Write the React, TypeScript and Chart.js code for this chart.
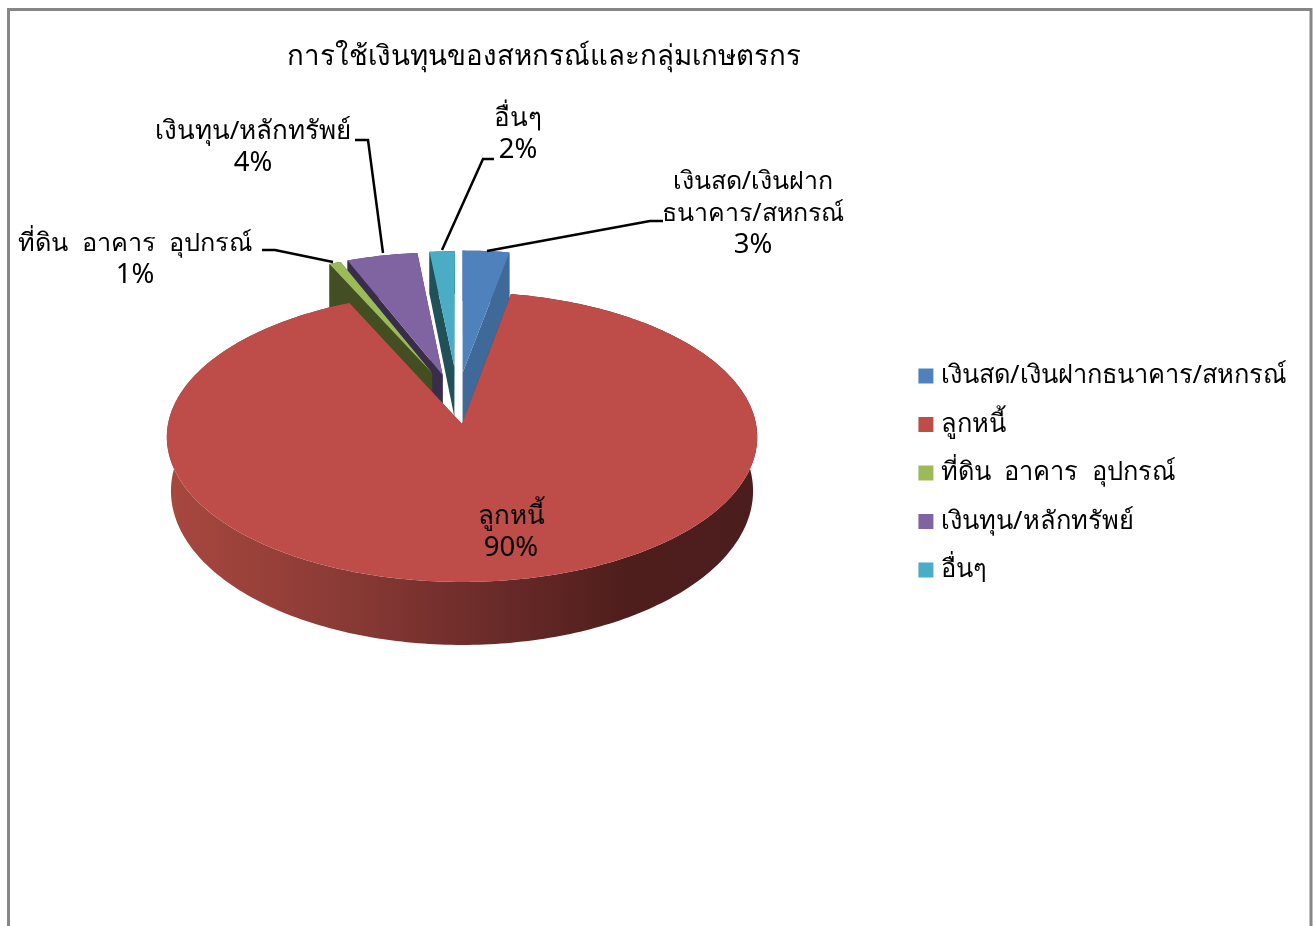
import React, { useEffect, useRef } from "react";
import { Chart, registerables } from "chart.js";

Chart.register(...registerables);

const titleText = "การใช้เงินทุนของสหกรณ์และกลุ่มเกษตรกร";
const categories = ["เงินสด/เงินฝากธนาคาร/สหกรณ์", "ลูกหนี้", "ที่ดิน  อาคาร  อุปกรณ์", "เงินทุน/หลักทรัพย์", "อื่นๆ"];
const shareValues = [2.9, 90.3, 0.75, 4.4, 1.65];
const topColors = ["#4F81BD", "#BE4C49", "#9BBB59", "#8064A2", "#4BACC6"];
const wallColors = ["#3E6998", "#7A302D", "#434F22", "#392D4C", "#205058"];
const FONT = '"Noto Sans", "DejaVu Sans", sans-serif';

// style: how far each slice is pulled out of the pie, on the unit disc
const explodeU = [0.002, 0, -0.105, -0.068, -0.027];
const explodeV = [-0.367, 0, -0.367, -0.352, -0.411];
const radiusScale = [0.985, 1, 0.955, 0.985, 0.935];
const wallExtra = [8, 0, 0, 0, 0];
const paintOrder = [4, 3, 2, 0, 1];

// style: label placement
const labelLines = [["เงินสด/เงินฝาก", "ธนาคาร/สหกรณ์"], ["ลูกหนี้"], ["ที่ดิน  อาคาร  อุปกรณ์"], ["เงินทุน/หลักทรัพย์"], ["อื่นๆ"]];
const labelX = [753, 511, 135, 253, 518];
const labelY = [182, 517, 244, 132, 119];
const labelSize = [25, 26, 25.3, 26, 26];
const leaderPaths: number[][][] = [
  [[487, 251], [650, 221], [663, 221]],
  [],
  [[333, 262], [275, 250], [262, 250]],
  [[383, 253], [368, 140], [355, 140]],
  [[442, 250], [483, 159], [494, 159]],
];

const CX = 462, CY = 424, A = 294, B = 143.8, K = 0.0897;
const project = (u: number, v: number) => {
  const w = 1 - K * v;
  return [CX + (A * u) / w, CY + (B * v) / w];
};
const lower = (p: number[], shrink: number, extra: number) => [
  CX + shrink * (p[0] - CX),
  423 + 1.062 * (p[1] - 373) + extra,
];

const fillPoly = (ctx: CanvasRenderingContext2D, pts: number[][], fill: any) => {
  ctx.beginPath();
  pts.forEach((p, i) => (i ? ctx.lineTo(p[0], p[1]) : ctx.moveTo(p[0], p[1])));
  ctx.closePath();
  ctx.fillStyle = fill;
  ctx.fill();
};

const piePlugin = {
  id: "pie3d",
  afterLayout(chart: any) {
    chart.titleBlock.left = 0;
    chart.titleBlock.right = 1087;
  },
  beforeDraw(chart: any) {
    const ctx = chart.ctx;
    ctx.save();
    ctx.fillStyle = "#fff";
    ctx.fillRect(0, 0, chart.width, chart.height);
    ctx.strokeStyle = "#868686";
    ctx.lineWidth = 3;
    ctx.beginPath();
    ctx.moveTo(8.5, 940);
    ctx.lineTo(8.5, 9.5);
    ctx.lineTo(1311, 9.5);
    ctx.lineTo(1311, 940);
    ctx.stroke();
    ctx.restore();
  },
  beforeDatasetsDraw(chart: any) {
    const ctx = chart.ctx;
    const arcs = chart.getDatasetMeta(0).data;
    ctx.save();
    paintOrder.forEach((i) => {
      const arc = arcs[i];
      const r = radiusScale[i];
      const start = arc.startAngle, end = arc.endAngle;
      const steps = Math.max(2, Math.ceil(((end - start) * 180) / Math.PI));
      const rim: number[][] = [];
      for (let s = 0; s <= steps; s++) {
        const a = start + ((end - start) * s) / steps;
        rim.push(project(explodeU[i] + r * Math.cos(a), explodeV[i] + r * Math.sin(a)));
      }
      const apex = project(explodeU[i], explodeV[i]);
      const shrink = i === 1 ? 0.986 : 1;
      const rimLow = rim.map((p) => lower(p, shrink, wallExtra[i]));
      const apexLow = lower(apex, shrink, 0);
      let wallFill: any = wallColors[i];
      if (i === 1) {
        const g = ctx.createLinearGradient(167, 0, 757, 0);
        g.addColorStop(0, "#A8483F");
        g.addColorStop(0.3, "#8A3A35");
        g.addColorStop(0.55, "#6B2B29");
        g.addColorStop(0.78, "#4E1E1C");
        g.addColorStop(1, "#4B1D1C");
        wallFill = g;
      }
      fillPoly(ctx, [apex, rim[0], rimLow[0], apexLow], wallFill);
      fillPoly(ctx, [apex, rim[steps], rimLow[steps], apexLow], wallFill);
      fillPoly(ctx, [...rim, ...rimLow.slice().reverse()], wallFill);
      fillPoly(ctx, [apex, ...rim], topColors[i]);
    });
    ctx.restore();
    return false;
  },
  afterDraw(chart: any) {
    const ctx = chart.ctx;
    const total = shareValues.reduce((a, b) => a + b, 0);
    ctx.save();
    ctx.strokeStyle = "#000";
    ctx.lineWidth = 2.5;
    ctx.lineJoin = "miter";
    leaderPaths.forEach((path) => {
      if (!path.length) return;
      ctx.beginPath();
      path.forEach((p, i) => (i ? ctx.lineTo(p[0], p[1]) : ctx.moveTo(p[0], p[1])));
      ctx.stroke();
    });
    ctx.fillStyle = "#000";
    ctx.textAlign = "center";
    ctx.textBaseline = "middle";
    labelLines.forEach((lines, i) => {
      ctx.font = `${labelSize[i]}px ${FONT}`;
      lines.forEach((row, j) => ctx.fillText(row, labelX[i], labelY[i] + j * 31.5));
      ctx.font = `27.5px ${FONT}`;
      ctx.fillText(`${Math.round((shareValues[i] / total) * 100)}%`, labelX[i], labelY[i] + lines.length * 31.5);
    });
    ctx.restore();
  },
};

export default function App() {
  const ref = useRef<HTMLCanvasElement>(null);
  useEffect(() => {
    const chart = new Chart(ref.current as HTMLCanvasElement, {
      type: "pie",
      data: {
        labels: categories,
        datasets: [{ data: shareValues, backgroundColor: topColors, borderColor: topColors, borderWidth: 10 }],
      },
      options: {
        responsive: false,
        animation: false,
        layout: { padding: { right: 19, top: 20, bottom: 0 } },
        plugins: {
          title: {
            display: true,
            text: titleText,
            color: "#000",
            font: { family: FONT, size: 27.7, weight: "normal" },
            padding: { top: 20, bottom: 10 },
          },
          legend: {
            position: "right",
            labels: {
              boxWidth: 5,
              boxHeight: 5,
              padding: 23.1,
              color: "#000",
              font: { family: FONT, size: 25.4 },
            },
          },
          tooltip: { enabled: false },
        },
      },
      plugins: [piePlugin],
    } as any);
    return () => chart.destroy();
  }, []);
  return (
    <div style={{ position: "absolute", left: 0, top: 0, width: 1316, height: 926, overflow: "hidden" }}>
      <canvas ref={ref} width={1316} height={926} style={{ display: "block" }} />
    </div>
  );
}
